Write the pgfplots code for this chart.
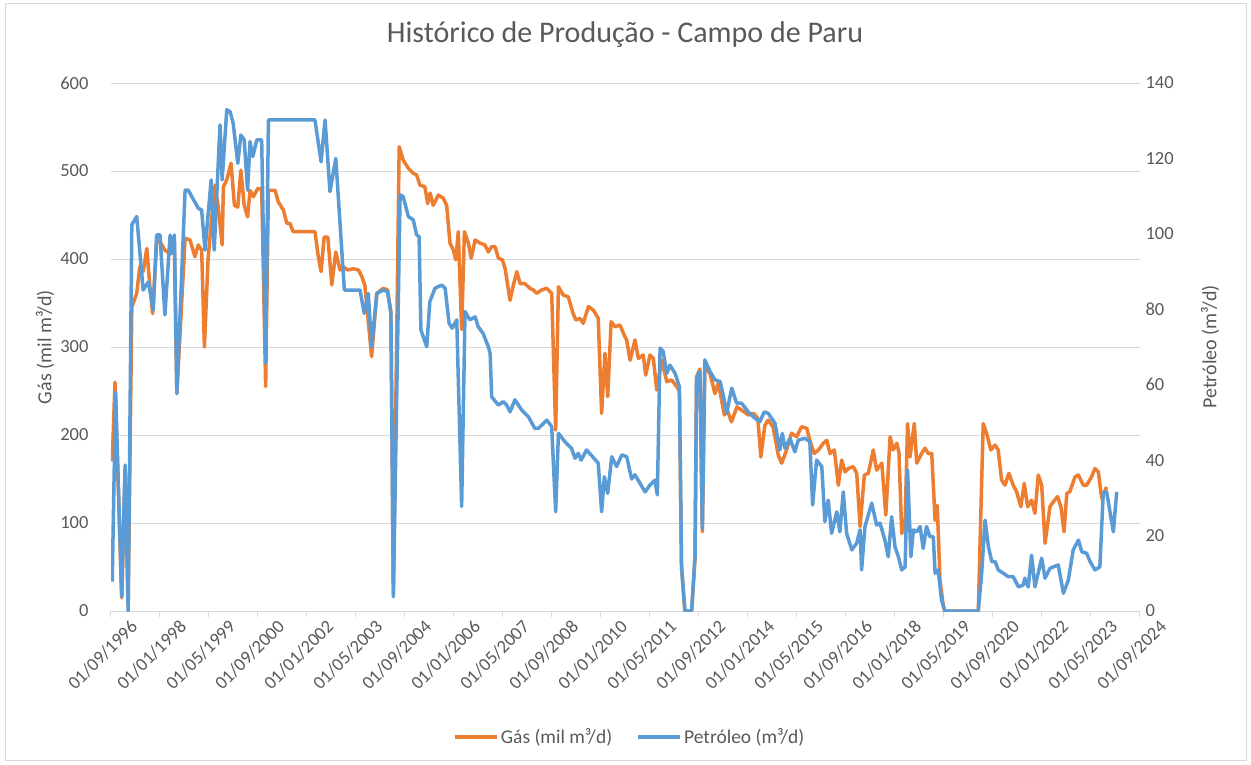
\documentclass[border=0pt]{standalone}
\usepackage{fontspec}
\setmainfont{Carlito}
\usepackage{pgfplots}
\pgfplotsset{compat=1.18}
\definecolor{gasc}{HTML}{ED7D31}
\definecolor{oilc}{HTML}{5B9BD5}
\definecolor{txt}{HTML}{595959}
\definecolor{gridc}{HTML}{D9D9D9}
\begin{document}
\begin{tikzpicture}[x=1pt,y=1pt]
\path[use as bounding box] (0,0) rectangle (1251,764);
\draw[gridc, line width=1pt] (5,4) rectangle (1246,760);
\pgfplotsset{
  common/.style={
    at={(111pt,153pt)}, anchor=south west,
    scale only axis, width=1029pt, height=528pt,
    xmin=0, xmax=336,
    /pgf/number format/assume math mode=true,
    tick label style={font=\fontsize{18.5}{22}\selectfont, text=txt},
    label style={font=\fontsize{20}{24}\selectfont, text=txt},
  }
}
\begin{axis}[common,
  ymin=0, ymax=600, ytick={0,100,...,600},
  xtick={0,16,...,336},
  xticklabels={01/09/1996,01/01/1998,01/05/1999,01/09/2000,01/01/2002,01/05/2003,01/09/2004,01/01/2006,01/05/2007,01/09/2008,01/01/2010,01/05/2011,01/09/2012,01/01/2014,01/05/2015,01/09/2016,01/01/2018,01/05/2019,01/09/2020,01/01/2022,01/05/2023,01/09/2024},
  axis x line*=bottom, axis y line*=left,
  x axis line style={gridc, line width=1pt, -},
  y axis line style={draw=none},
  ymajorgrids, grid style={gridc, line width=1pt},
  tick align=outside, major tick length=6pt,
  xtick style={gridc, line width=1pt},
  ytick style={draw=none},
  yticklabel style={anchor=east, xshift=-13pt},
  xticklabel style={rotate=45, anchor=east, inner sep=0pt, xshift=12pt, yshift=-21pt},
  ylabel={Gás (mil m³/d)},
  ylabel style={at={(axis description cs:-0.0641,0.5)}, anchor=center},
  title={Histórico de Produção - Campo de Paru},
  title style={at={(axis description cs:0.4995,1.0644)}, anchor=base, font=\fontsize{30}{34}\selectfont, text=txt},
]
\addplot[gasc, line width=3.5pt, line join=round, no markers] table {
0.4 170
1.3 260
3.5 15
4.6 160
5.6 5
6.8 345
8.4 361
9.4 391
10.5 385.6
11.7 412
12.7 368.5
13.6 338
14.9 419.7
16.0 419.7
17.6 410
19.3 406
20.7 415
21.5 247
24.2 423.5
25.8 421.6
27.4 402.6
28.5 416
29.6 410
30.5 300
31.7 400
32.7 440
34.0 484
35.0 459
36.3 416
36.7 482
37.8 490
39.2 508.7
40.3 461
41.4 459
42.4 501
43.5 461
44.6 448
45.4 478
46.5 470.8
47.9 480
49.2 480
50.5 255
51.4 478
53.6 478
54.6 465
56.3 455.7
57.4 440.6
58.4 440.6
59.5 431
66.6 431
67.7 402.6
68.6 385.6
69.6 425
70.8 425
72.1 370.5
73.4 408
74.8 387.5
75.9 391
77.3 387.5
79.1 389
80.8 387.5
81.9 380
82.9 370
85.1 289
86.8 361
88.9 366.7
90.3 364.8
91.4 340
92.2 20
94.1 527.6
95.4 512.5
97.1 503
98.7 497.4
99.8 495.5
100.9 484
102.5 482
103.4 463
104.2 475
105.2 461
106.9 472.7
108.5 469
109.6 461
110.7 418
111.8 410
112.6 399
113.4 431
114.5 320
115.4 431
116.7 418
117.6 401
118.9 421.6
120.5 418
122.1 416
123.2 408
124.3 414
125.4 414
126.5 401
127.8 399
128.7 389
130.3 353
131.4 370.5
132.5 385.6
133.6 372
135.2 372
136.8 366.7
137.9 364.8
139.0 361
140.6 364.8
142.3 366.7
143.9 361
145.2 205.7
146.1 368.5
147.7 359
149.3 357
150.9 338
151.8 330.7
153.1 332.6
154.2 327
155.9 345.8
157.5 342
159.1 332.6
160.2 224.6
161.3 292.8
162.2 243.5
163.3 328.8
164.6 323
166.2 325
167.8 311.7
168.4 308
169.5 285
171.1 308
172.2 287
173.8 291
174.6 268
176.0 291
177.1 287
178.2 251
179.8 285
181.5 260.6
183.1 262.5
184.7 255
185.6 250
186.3 50
187.4 0
189.6 0
190.7 60
191.2 266
192.3 275
193.1 90
193.9 277.6
195.6 270
197.2 247
198.3 259
200.3 222.7
201.1 230
202.6 215
204.4 232
206.0 228
208.2 222.7
209.8 224.6
211.2 219
212.2 175
213.5 211
214.6 217
216.2 209
217.9 177
219.0 168
220.6 183
222.2 202
223.9 198
225.5 209.4
227.2 207.6
228.2 194
229.6 179
231.0 183
232.6 190.6
233.7 194
234.8 179
236.2 183
237.5 143
238.6 171.6
239.7 158
240.8 162
242.4 164
243.5 156.5
244.6 96
246.0 154.5
247.3 156.5
248.9 183
250.0 160
251.7 168
253.0 109
254.4 198
255.4 183
256.6 190.6
257.3 180
258.2 88
259.3 100
260.1 213
260.9 175
262.3 213
263.1 168
264.7 179
265.8 185
266.9 179
268.0 179
269.1 103
269.8 120
270.7 35
271.8 5
272.3 0
283.2 0
284.8 213
285.9 202
287.3 183
288.7 188.6
289.7 183
290.8 149
291.9 143
293.2 156.5
294.6 143
295.7 135.6
297.1 118.5
298.2 145
299.3 118.5
300.6 126
301.7 111
302.8 154.5
303.9 143
305.0 77
306.6 118.5
307.7 124
309.1 130
310.2 118
311.2 90
312.1 133.7
313.1 135.6
314.8 152.6
315.9 154.5
317.5 143
318.6 143
320.2 152.6
321.3 162
322.4 158
323.5 128
325.1 141
};
\end{axis}
\begin{axis}[common,
  ymin=0, ymax=140, ytick={0,20,...,140},
  axis x line=none, axis y line*=right,
  y axis line style={draw=none},
  ytick style={draw=none},
  yticklabel style={anchor=west, xshift=2pt},
  ylabel={Petróleo (m³/d)},
  ylabel style={at={(axis description cs:1.068,0.5)}, anchor=center},
  legend style={at={(axis description cs:0.504,-0.2386)}, anchor=center, draw=none, fill=none,
    legend columns=2, font=\fontsize{19.5}{23}\selectfont, text=txt,
    /tikz/every even column/.append style={column sep=22pt}},
  legend image code/.code={\draw[#1, line width=4pt] (0pt,0pt) -- (42pt,0pt);},
]
\addlegendimage{gasc}
\addlegendentry{Gás (mil m³/d)}
\addplot[oilc, line width=3.5pt, line join=round, no markers] table {
0.4 7.8
1.5 58
3.5 3.8
4.6 38.7
5.6 0
6.8 102.4
8.4 104.6
10.5 85.1
12.2 87.3
13.8 79.8
14.9 99.7
16.0 99.7
17.6 78.5
19.3 99.7
19.8 94.8
20.7 99.7
21.5 57.7
24.2 111.6
25.2 111.6
28.5 106.8
29.6 106.3
30.7 95.7
32.7 114.3
33.7 95.7
35.6 128.9
36.3 114.3
37.8 132.9
38.9 132.4
39.9 129.3
41.4 118.7
42.4 126.2
43.5 124.9
44.6 111.6
45.4 124.5
46.3 120.5
47.6 124.9
49.2 124.9
50.5 65.7
51.4 130.2
66.6 130.2
68.6 119.1
69.9 130.2
71.5 111.2
73.4 120.0
76.2 85.1
81.3 85.1
82.7 78.9
84.0 84.2
85.1 70.1
86.8 84.2
88.9 85.1
90.3 84.7
91.4 78.9
92.2 3.8
94.4 110.3
95.4 109.9
97.1 104.6
98.7 103.7
99.8 99.7
100.6 99.3
101.2 74.5
103.1 70.1
104.1 82.0
105.8 85.6
108.0 86.4
109.1 85.6
110.4 76.3
111.4 75.0
112.9 77.2
114.5 27.7
115.6 79.4
117.2 77.2
118.9 78.0
119.9 75.4
121.5 73.6
123.2 70.1
123.8 68.3
124.3 56.8
126.5 54.6
128.1 55.5
129.2 54.6
130.3 52.8
131.9 56.0
134.1 53.3
136.3 51.5
138.4 48.4
139.5 48.4
142.3 50.6
143.9 48.9
145.2 26.3
146.1 47.1
148.2 44.9
150.4 43.1
151.5 40.5
152.6 41.8
153.5 40.0
155.3 42.7
159.1 39.2
160.2 26.3
161.1 35.6
162.2 31.2
163.5 40.9
165.1 38.3
166.8 41.4
168.4 40.9
170.0 35.0
171.1 36.1
172.7 33.9
174.4 31.6
176.0 33.4
177.6 34.7
178.4 30.8
179.3 69.7
180.3 68.8
181.5 63.0
182.5 65.2
184.2 63.0
185.6 59.5
186.3 11.7
187.4 0
189.6 0
190.7 14.4
191.2 61.7
192.3 63.5
193.1 21.9
193.9 66.6
195.6 63.5
197.2 61.3
198.9 60.8
199.9 57.3
201.0 52.4
202.7 59.1
204.3 55.1
205.9 55.1
208.1 52.8
210.3 51.1
211.9 50.2
213.3 52.8
214.6 52.4
216.8 49.8
218.4 42.7
219.2 47.1
220.1 43.1
221.7 45.8
223.3 42.2
224.4 45.3
226.6 45.8
228.2 44.9
229.1 28.1
230.4 40.0
232.1 38.3
233.1 23.7
234.2 29.4
235.3 20.6
237.0 26.3
238.0 21.0
239.1 31.6
240.2 20.6
241.9 16.2
243.5 18.0
244.6 21.5
245.1 10.9
246.2 22.4
248.4 28.6
250.0 22.8
251.1 23.3
252.7 18.8
253.8 14.4
254.9 25.0
256.0 17.1
257.1 14.4
258.2 10.9
259.3 11.7
260.1 37.4
261.2 14.4
262.0 21.5
263.1 21.0
264.2 22.4
265.2 16.6
266.3 22.4
267.4 19.7
268.5 19.7
269.1 10.0
270.1 10.9
271.2 2.9
272.3 0
283.2 0
284.3 10
285.4 24.1
286.5 17.1
287.6 13.1
288.7 13.1
289.7 10.9
291.4 10.0
293.0 9.1
294.6 9.1
296.3 6.4
297.9 6.9
298.4 8.7
299.5 6.4
300.6 14.8
301.7 6.4
303.9 14.0
305.0 8.7
306.6 11.3
307.7 11.7
309.3 12.2
311.0 4.7
312.6 8.2
314.2 16.2
315.9 18.8
317.0 15.7
318.6 15.3
319.7 13.1
321.3 10.9
322.9 11.7
324.0 31.2
325.1 31.6
327.3 21.0
328.4 31.6
};
\addlegendentry{Petróleo (m³/d)}
\end{axis}
\end{tikzpicture}
\end{document}
